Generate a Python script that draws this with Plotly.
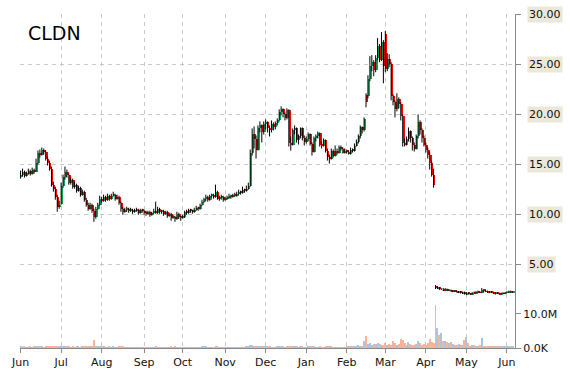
import plotly.graph_objects as go

symbol = "CLDN"
month_labels = ["Jun", "Jul", "Aug", "Sep", "Oct", "Nov", "Dec", "Jan", "Feb", "Mar", "Apr", "May", "Jun"]
month_bar_index = [0, 21, 42, 64, 84, 106, 127, 148, 169, 189, 210, 231, 252]
price_ticks = [5, 10, 15, 20, 25, 30]
volume_ticks = [0, 10]
volume_tick_text = ["0.0K", "10.0M"]

opens = [
    13.8, 14.0, 14.3, 13.9, 14.1, 14.4, 14.1, 14.5, 14.3, 15.2,
    16.2, 16.0, 16.5, 16.3, 15.6, 15.2, 14.6, 13.0, 12.6, 11.8,
    10.8, 11.1, 12.9, 13.8, 14.3, 14.0, 13.2, 13.5, 12.8, 13.0,
    12.4, 12.7, 12.0, 12.3, 11.5, 11.0, 10.6, 11.0, 10.4, 9.8,
    10.6, 11.0, 11.6, 11.4, 11.8, 11.5, 11.9, 11.6, 11.9, 12.0,
    11.6, 11.8, 11.2, 10.6, 10.3, 10.5, 10.6, 10.4, 10.5, 10.3,
    10.4, 10.5, 10.2, 10.5, 10.4, 10.2, 10.1, 10.3, 10.0, 10.2,
    10.4, 10.2, 10.6, 10.3, 10.4, 10.1, 10.3, 9.9, 10.1, 9.7,
    9.8, 9.6, 10.1, 9.8, 9.7, 9.8, 10.3, 10.2, 10.5, 10.4,
    10.3, 10.5, 10.7, 10.6, 11.0, 11.3, 11.6, 11.8, 11.5, 11.9,
    12.0, 11.8, 12.3, 11.6, 11.7, 11.8, 11.5, 11.6, 11.7, 11.9,
    11.8, 12.0, 11.9, 12.1, 12.3, 12.2, 12.5, 12.4, 12.6, 12.9,
    16.2, 18.0, 17.5, 16.5, 18.6, 18.9, 18.2, 19.0, 19.2, 18.6,
    18.4, 19.0, 18.7, 19.1, 19.4, 20.2, 20.5, 20.0, 19.6, 20.4,
    17.2, 17.0, 18.4, 18.6, 17.4, 17.8, 18.6, 17.6, 17.3, 17.5,
    18.0, 17.1, 16.3, 17.6, 17.8, 18.1, 17.0, 16.9, 17.4, 16.4,
    15.8, 15.6, 16.4, 15.9, 16.4, 16.2, 16.8, 16.6, 16.2, 16.4,
    16.3, 16.1, 16.5, 16.4, 16.9, 17.3, 17.8, 18.7, 18.4, 21.9,
    21.8, 23.5, 24.8, 25.2, 24.4, 25.6, 26.8, 25.4, 27.2, 28.0,
    24.5, 25.5, 25.0, 21.8, 21.2, 20.5, 21.5, 21.0, 19.8, 17.2,
    17.0, 17.5, 18.3, 17.6, 17.0, 16.6, 17.8, 19.2, 18.4, 17.6,
    17.0, 16.5, 16.0, 15.2, 14.0, 2.9, 2.7, 2.8, 2.6, 2.6,
    2.5, 2.6, 2.45, 2.5, 2.4, 2.45, 2.35, 2.3, 2.35, 2.2,
    2.3, 2.1, 2.25, 2.15, 2.1, 2.25, 2.2, 2.35, 2.3, 2.25,
    2.55, 2.4, 2.35, 2.3, 2.35, 2.25, 2.15, 2.25, 2.2, 2.1,
    2.2, 2.15, 2.25, 2.3, 2.4, 2.3,
]

highs = [
    14.4, 14.6, 14.4, 14.3, 14.6, 14.5, 14.7, 14.6, 15.6, 16.4,
    16.5, 16.7, 16.6, 16.4, 15.8, 15.4, 14.8, 13.3, 12.8, 12.0,
    11.4, 13.2, 14.0, 14.8, 14.5, 14.1, 13.7, 13.6, 13.3, 13.1,
    12.9, 12.8, 12.5, 12.4, 11.7, 11.2, 11.2, 11.1, 10.6, 10.8,
    11.2, 11.9, 11.8, 12.0, 11.9, 12.1, 12.0, 12.1, 12.3, 12.1,
    12.0, 11.9, 11.3, 10.8, 10.7, 10.8, 10.7, 10.7, 10.6, 10.6,
    10.7, 10.6, 10.6, 10.6, 10.5, 10.4, 10.4, 10.4, 10.3, 10.6,
    11.3, 10.8, 10.7, 10.5, 10.5, 10.4, 10.4, 10.2, 10.2, 10.0,
    9.9, 10.3, 10.2, 9.9, 10.0, 10.4, 10.5, 10.6, 10.6, 10.5,
    10.7, 10.9, 10.8, 11.1, 11.5, 11.7, 12.0, 11.9, 12.0, 12.1,
    12.1, 13.0, 12.4, 11.9, 12.0, 11.9, 11.8, 11.9, 12.1, 12.0,
    12.1, 12.2, 12.3, 12.5, 12.4, 12.8, 12.6, 12.9, 13.2, 16.5,
    18.6, 18.8, 17.9, 18.9, 19.3, 19.0, 19.3, 19.5, 19.3, 18.9,
    19.4, 19.2, 19.3, 19.6, 20.5, 20.8, 20.6, 20.2, 20.6, 20.5,
    17.8, 18.6, 18.9, 18.7, 18.0, 18.7, 18.7, 17.9, 17.8, 18.2,
    18.1, 17.2, 17.8, 18.0, 18.3, 18.2, 17.3, 17.6, 17.5, 16.6,
    16.0, 16.6, 16.5, 16.9, 16.6, 16.9, 16.9, 16.7, 16.6, 16.5,
    16.4, 16.7, 16.6, 17.1, 17.5, 18.0, 18.9, 18.8, 19.7, 22.1,
    23.9, 25.8, 25.9, 25.4, 25.9, 27.6, 27.0, 28.2, 27.4, 28.3,
    26.1, 26.0, 25.2, 22.0, 21.4, 22.1, 21.7, 21.2, 20.0, 17.6,
    17.8, 18.7, 18.4, 17.8, 17.2, 18.0, 20.0, 19.4, 18.6, 17.9,
    17.2, 16.7, 16.3, 15.4, 14.6, 3.0, 2.9, 2.8, 2.7, 2.7,
    2.7, 2.65, 2.6, 2.55, 2.5, 2.5, 2.45, 2.4, 2.4, 2.35,
    2.35, 2.3, 2.3, 2.2, 2.3, 2.35, 2.4, 2.45, 2.4, 2.7,
    2.6, 2.5, 2.45, 2.4, 2.4, 2.35, 2.3, 2.3, 2.25, 2.25,
    2.3, 2.3, 2.4, 2.45, 2.45, 2.4,
]

lows = [
    13.6, 13.8, 13.7, 13.8, 14.0, 13.9, 14.0, 14.1, 14.3, 15.0,
    15.7, 15.9, 16.0, 15.4, 14.9, 14.4, 12.8, 12.3, 11.5, 10.3,
    10.6, 11.0, 12.7, 13.5, 13.7, 13.0, 13.0, 12.6, 12.6, 12.2,
    12.3, 11.8, 11.9, 11.3, 10.8, 10.4, 10.5, 10.2, 9.3, 9.6,
    10.5, 10.9, 11.2, 11.3, 11.3, 11.4, 11.4, 11.5, 11.8, 11.4,
    11.5, 11.0, 10.3, 10.0, 10.2, 10.3, 10.2, 10.3, 10.1, 10.2,
    10.3, 10.0, 10.1, 10.2, 10.0, 9.9, 10.0, 9.8, 9.9, 10.1,
    10.1, 10.1, 10.1, 10.1, 9.9, 10.0, 9.7, 9.8, 9.4, 9.6,
    9.3, 9.5, 9.6, 9.4, 9.6, 9.7, 10.0, 10.1, 10.2, 10.1,
    10.2, 10.4, 10.4, 10.5, 10.9, 11.2, 11.4, 11.3, 11.4, 11.7,
    11.6, 11.7, 11.5, 11.4, 11.5, 11.3, 11.4, 11.5, 11.6, 11.6,
    11.7, 11.8, 11.8, 12.0, 12.0, 12.1, 12.2, 12.3, 12.5, 12.8,
    15.9, 16.6, 15.6, 16.4, 18.2, 17.2, 18.0, 18.5, 18.2, 17.8,
    18.2, 18.4, 18.5, 18.9, 19.3, 19.9, 19.7, 19.4, 19.5, 16.8,
    16.4, 16.9, 18.0, 17.2, 17.0, 17.6, 17.4, 16.9, 17.1, 17.3,
    16.9, 15.9, 16.2, 17.3, 17.6, 16.8, 16.6, 16.8, 16.2, 15.4,
    15.1, 15.5, 15.7, 15.8, 16.0, 16.1, 16.4, 16.1, 16.1, 16.1,
    16.0, 16.0, 16.2, 16.3, 16.8, 17.1, 17.6, 18.1, 18.3, 20.7,
    21.6, 23.3, 24.3, 23.8, 24.2, 25.4, 25.2, 25.3, 23.1, 24.2,
    24.3, 24.7, 21.4, 20.9, 19.7, 20.3, 20.6, 19.4, 16.8, 16.8,
    16.9, 17.3, 17.2, 16.4, 16.3, 16.5, 17.6, 18.0, 17.2, 16.8,
    16.2, 15.6, 14.5, 13.8, 12.7, 2.6, 2.6, 2.5, 2.5, 2.4,
    2.45, 2.4, 2.4, 2.35, 2.3, 2.3, 2.25, 2.2, 2.15, 2.1,
    2.05, 2.0, 2.05, 2.0, 2.05, 2.15, 2.15, 2.2, 2.2, 2.2,
    2.3, 2.3, 2.25, 2.2, 2.2, 2.1, 2.05, 2.1, 2.05, 2.05,
    2.1, 2.1, 2.2, 2.2, 2.25, 2.25,
]

closes = [
    14.0, 14.3, 13.9, 14.2, 14.4, 14.1, 14.5, 14.3, 15.2, 16.2,
    16.0, 16.5, 16.3, 15.6, 15.2, 14.6, 13.0, 12.6, 11.8, 10.8,
    11.0, 12.9, 13.8, 14.3, 14.0, 13.2, 13.5, 12.8, 13.0, 12.4,
    12.7, 12.0, 12.3, 11.5, 11.0, 10.6, 11.0, 10.4, 9.8, 10.6,
    11.0, 11.6, 11.4, 11.8, 11.5, 11.9, 11.6, 11.9, 12.0, 11.6,
    11.8, 11.2, 10.6, 10.3, 10.5, 10.6, 10.4, 10.5, 10.3, 10.4,
    10.5, 10.2, 10.5, 10.4, 10.2, 10.1, 10.3, 10.0, 10.2, 10.4,
    10.2, 10.6, 10.3, 10.4, 10.1, 10.3, 9.9, 10.1, 9.7, 9.8,
    9.6, 10.1, 9.8, 9.7, 9.8, 10.3, 10.2, 10.5, 10.4, 10.3,
    10.5, 10.7, 10.6, 11.0, 11.3, 11.6, 11.8, 11.5, 11.9, 12.0,
    11.8, 12.3, 11.6, 11.7, 11.8, 11.5, 11.6, 11.7, 11.9, 11.8,
    12.0, 11.9, 12.1, 12.3, 12.2, 12.5, 12.4, 12.6, 12.9, 16.2,
    18.0, 17.5, 16.5, 18.6, 18.9, 18.2, 19.0, 19.2, 18.6, 18.4,
    19.0, 18.7, 19.1, 19.4, 20.2, 20.5, 20.0, 19.6, 20.4, 17.2,
    17.0, 18.4, 18.6, 17.4, 17.8, 18.6, 17.6, 17.3, 17.5, 18.0,
    17.1, 16.3, 17.6, 17.8, 18.1, 17.0, 16.9, 17.4, 16.4, 15.8,
    15.6, 16.4, 15.9, 16.4, 16.2, 16.8, 16.6, 16.2, 16.4, 16.3,
    16.1, 16.5, 16.4, 16.9, 17.3, 17.8, 18.7, 18.4, 19.5, 21.2,
    23.5, 24.8, 25.2, 24.4, 25.6, 26.8, 25.4, 27.2, 24.8, 24.5,
    25.5, 25.0, 21.8, 21.2, 20.5, 21.5, 21.0, 19.8, 17.2, 17.0,
    17.5, 18.3, 17.6, 17.0, 16.6, 17.8, 19.2, 18.4, 17.6, 17.0,
    16.5, 16.0, 15.2, 14.0, 13.0, 2.7, 2.8, 2.6, 2.6, 2.5,
    2.6, 2.45, 2.5, 2.4, 2.45, 2.35, 2.3, 2.35, 2.2, 2.3,
    2.1, 2.25, 2.15, 2.1, 2.25, 2.2, 2.35, 2.3, 2.25, 2.55,
    2.4, 2.35, 2.3, 2.35, 2.25, 2.15, 2.25, 2.2, 2.1, 2.2,
    2.15, 2.25, 2.3, 2.4, 2.3, 2.35,
]

# volume in millions of shares
volumes = [
    0.3, 0.2, 0.3, 0.2, 0.2, 0.3, 0.2, 0.3, 0.4, 0.5,
    0.3, 0.3, 0.2, 0.3, 0.3, 0.4, 0.6, 0.4, 0.5, 0.6,
    0.4, 0.5, 0.4, 0.3, 0.3, 0.3, 0.2, 0.3, 0.2, 0.3,
    0.3, 0.2, 0.3, 0.3, 0.4, 0.3, 0.3, 0.4, 2.3, 0.6,
    0.4, 0.3, 0.3, 0.3, 0.2, 0.2, 0.3, 0.2, 0.3, 0.2,
    0.2, 0.3, 0.4, 0.3, 0.2, 0.2, 0.2, 0.2, 0.2, 0.2,
    0.2, 0.2, 0.2, 0.2, 0.2, 0.2, 0.2, 0.2, 0.2, 0.2,
    0.3, 0.2, 0.2, 0.2, 0.2, 0.2, 0.2, 0.2, 0.3, 0.2,
    0.3, 0.2, 0.2, 0.2, 0.2, 0.2, 0.2, 0.2, 0.2, 0.2,
    0.2, 0.2, 0.2, 0.2, 0.3, 0.3, 0.3, 0.2, 0.2, 0.2,
    0.2, 0.4, 0.3, 0.2, 0.2, 0.2, 0.2, 0.2, 0.2, 0.2,
    0.2, 0.2, 0.2, 0.2, 0.2, 0.2, 0.2, 0.3, 0.3, 1.0,
    0.9, 0.6, 0.5, 0.4, 0.3, 0.4, 0.3, 0.3, 0.3, 0.3,
    0.2, 0.2, 0.2, 0.3, 0.3, 0.4, 0.3, 0.2, 0.3, 0.6,
    0.4, 0.3, 0.3, 0.3, 0.2, 0.3, 0.3, 0.2, 0.2, 0.3,
    0.3, 0.4, 0.3, 0.2, 0.2, 0.3, 0.2, 0.2, 0.3, 0.4,
    0.3, 0.3, 0.2, 0.2, 0.2, 0.2, 0.2, 0.2, 0.2, 0.3,
    0.3, 0.4, 0.3, 0.6, 0.4, 0.8, 0.6, 0.7, 2.1, 3.6,
    1.2, 1.4, 1.0, 1.3, 1.1, 1.6, 1.2, 0.9, 1.0, 1.4,
    0.8, 1.2, 0.9, 2.1, 1.4, 1.0, 1.2, 2.7, 2.5, 1.5,
    0.9, 1.7, 1.2, 1.0, 0.8, 1.1, 2.1, 1.4, 0.9, 1.2,
    1.0, 1.5, 2.6, 1.8, 1.4, 12.6, 5.9, 3.9, 4.5, 2.2,
    2.0, 1.8, 1.6, 1.8, 1.2, 0.9, 1.0, 1.1, 0.8, 0.9,
    2.5, 3.3, 1.5, 0.7, 0.9, 0.8, 0.6, 0.7, 0.9, 2.9,
    0.6, 0.5, 0.4, 0.5, 0.6, 0.4, 0.3, 0.5, 0.4, 0.3,
    0.5, 0.4, 0.3, 0.6, 0.4, 0.3,
]

n = len(closes)
assert len(opens) == n and len(highs) == n and len(lows) == n and len(volumes) == n
idx = list(range(n))

UP = "#00a85a"
DOWN = "#ff0000"
VOL_UP = "#a9c6de"
VOL_DOWN = "#f6b29a"
GRID = "#c8c8c8"
AXIS = "#8a8a8a"
FONT = "DejaVu Sans, Verdana, sans-serif"

is_up = [c >= o for o, c in zip(opens, closes)]

# wicks
wx, wy = [], []
for i, h, l in zip(idx, highs, lows):
    wx += [i, i, None]
    wy += [l, h, None]

fig = go.Figure()

fig.add_trace(go.Bar(
    x=idx, y=volumes, yaxis="y2",
    marker=dict(color=[VOL_UP if u else VOL_DOWN for u in is_up], line=dict(width=0)),
    width=0.5, hoverinfo="skip", showlegend=False,
))

fig.add_trace(go.Scatter(
    x=wx, y=wy, mode="lines", line=dict(color="#000000", width=1),
    hoverinfo="skip", showlegend=False,
))

fig.add_trace(go.Bar(
    x=idx, base=opens, y=[c - o for o, c in zip(opens, closes)],
    marker=dict(color=[UP if u else DOWN for u in is_up], line=dict(width=0)),
    width=0.5, offset=0.2, hoverinfo="skip", showlegend=False,
))

annotations = [
    dict(text=f"{v:.2f}", x=1, xref="paper", y=v, yref="y", xanchor="left", yanchor="middle",
         xshift=12, showarrow=False, bgcolor="#ebe8da", borderpad=1,
         font=dict(family=FONT, size=11, color="#111111"))
    for v in price_ticks
]
annotations.append(dict(
    text=symbol, x=0, xref="paper", y=1, yref="paper", xanchor="left", yanchor="top",
    xshift=6, yshift=-6, showarrow=False, font=dict(family=FONT, size=19, color="#000000"),
))

fig.update_layout(
    width=570, height=370,
    margin=dict(l=20, r=55, t=14, b=22, autoexpand=False),
    paper_bgcolor="white", plot_bgcolor="white",
    barmode="overlay", bargap=0,
    showlegend=False,
    annotations=annotations,
    xaxis=dict(
        range=[-0.3, 256.2], tickmode="array", tickvals=month_bar_index, ticktext=month_labels,
        showgrid=True, gridcolor=GRID, griddash="4px,4px", gridwidth=1,
        showline=True, linecolor=AXIS, linewidth=1,
        ticks="outside", ticklen=4, tickcolor=AXIS,
        tickfont=dict(family=FONT, size=11, color="#111111"),
        zeroline=False, fixedrange=True, automargin=False,
    ),
    yaxis=dict(
        side="right", range=[-3.27, 30], tickmode="array", tickvals=price_ticks,
        showticklabels=False, showgrid=True, gridcolor=GRID, griddash="4px,4px", gridwidth=1,
        showline=True, linecolor=AXIS, linewidth=1,
        ticks="outside", ticklen=5, tickcolor=AXIS, zeroline=False, automargin=False,
    ),
    yaxis2=dict(
        overlaying="y", side="right", range=[0, 98.2], tickmode="array",
        tickvals=volume_ticks, ticktext=volume_tick_text,
        showgrid=False, showline=False, ticks="outside", ticklen=5, tickcolor=AXIS,
        tickfont=dict(family=FONT, size=11, color="#111111"), zeroline=False, automargin=False,
    ),
)

fig.write_html("out.html")
